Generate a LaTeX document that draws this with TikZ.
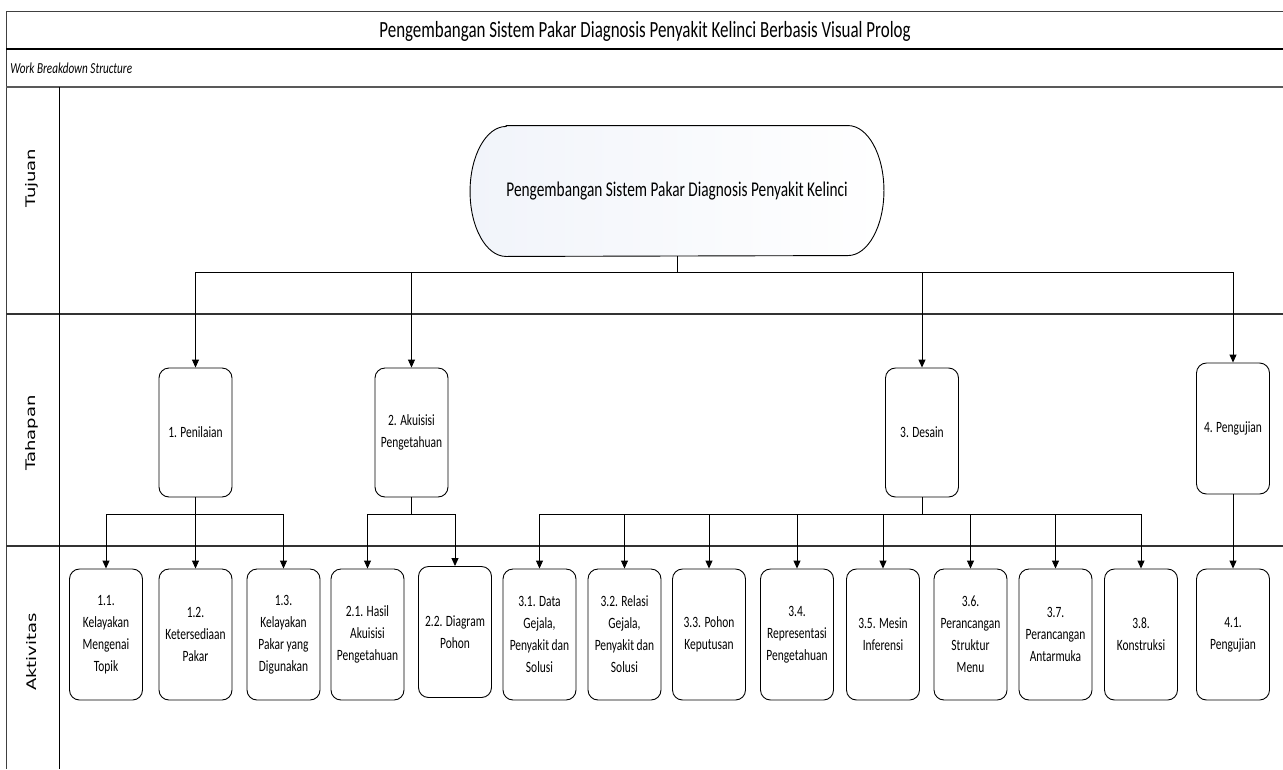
\documentclass[tikz,border=0pt]{standalone}
\usepackage{fontspec}
\setmainfont{Carlito}[FakeStretch=0.73]
\newfontfamily\lanefont{DejaVu Sans}
\usepackage{graphicx}
\usepackage{tikz}
\usetikzlibrary{calc, arrows.meta, positioning}

\tikzset{
  boxtahap/.style={draw, rounded corners=10pt, fill=white, minimum width=73pt, minimum height=129pt, align=center, inner sep=2pt, font=\fontsize{15.7}{22}\selectfont},
  boxaktiv/.style={boxtahap, minimum height=131pt},
  lanelabel/.style={rotate=90, inner sep=0pt},
  arr/.style={-{Triangle[length=8pt, width=7pt]}, line width=0.9pt},
  lanesep/.style={line width=2pt, black!80},
}

\begin{document}
\begin{tikzpicture}[x=1pt, y=-1pt, line width=0.9pt]
  \useasboundingbox (0,0) rectangle (1283,769);

  % pool and lanes
  \draw[black!75] (6,11) -- (1283,11);
  \draw[black!75] (6,11) -- (6,769);
  \draw[lanesep, black] (6,49) -- (1283,49);
  \draw[black!65, line width=1.3pt] (6,87) -- (1283,87);
  \draw[lanesep] (6,314) -- (1283,314);
  \draw[lanesep] (6,546) -- (1283,546);
  \draw (59,87) -- (59,769);

  \node (title) at (645,31) {\fontsize{23.2}{27}\selectfont Pengembangan Sistem Pakar Diagnosis Penyakit Kelinci Berbasis Visual Prolog};
  \node[anchor=west, inner sep=0pt] (wbs) at (10,68) {\fontsize{15.3}{18}\selectfont\itshape Work Breakdown Structure};

  \node[lanelabel] (tujuan) at (32,178) {\scalebox{1}[0.73]{\lanefont\fontsize{18}{20}\selectfont Tujuan}};
  \node[lanelabel] (tahapan) at (32,433) {\scalebox{1}[0.73]{\lanefont\fontsize{18}{20}\selectfont Tahapan}};
  \node[lanelabel] (aktivitas) at (32,652) {\scalebox{1}[0.73]{\lanefont\fontsize{18}{20}\selectfont Aktivitas}};

  % tujuan
  \node[minimum width=413pt, minimum height=130pt, inner sep=0pt] (goal) at (677,191) {};
  \path[draw, left color={rgb,255:red,241;green,244;blue,250}, right color=white]
    ([xshift=36pt]goal.north west) -- ([xshift=-36pt]goal.north east)
    arc[start angle=-90, end angle=90, x radius=36, y radius=65]
    -- ([xshift=36pt]goal.south west)
    arc[start angle=90, end angle=270, x radius=36, y radius=65] -- cycle;
  \node (goaltext) at (goal.center) {\fontsize{21}{24}\selectfont Pengembangan Sistem Pakar Diagnosis Penyakit Kelinci};

  % tahapan
  \node[boxtahap] (t1) at (195.5,432.5) {1. Penilaian};
  \node[boxtahap] (t2) at (411.5,432.5) {2. Akuisisi\\Pengetahuan};
  \node[boxtahap] (t3) at (922,432.5) {3. Desain};
  \node[boxtahap, minimum height=131pt] (t4) at (1233,428.5) {4. Pengujian};

  % aktivitas
  \node[boxaktiv] (a11) at (106,634.5) {1.1.\\Kelayakan\\Mengenai\\Topik};
  \node[boxaktiv] (a12) at (195.5,634.5) {1.2.\\Ketersediaan\\Pakar};
  \node[boxaktiv] (a13) at (283.5,634.5) {1.3.\\Kelayakan\\Pakar yang\\Digunakan};
  \node[boxaktiv] (a21) at (367.5,634.5) {2.1. Hasil\\Akuisisi\\Pengetahuan};
  \node[boxaktiv] (a22) at (455,632) {2.2. Diagram\\Pohon};
  \node[boxaktiv] (a31) at (539.5,634.5) {3.1. Data\\Gejala,\\Penyakit dan\\Solusi};
  \node[boxaktiv] (a32) at (624.5,634.5) {3.2. Relasi\\Gejala,\\Penyakit dan\\Solusi};
  \node[boxaktiv] (a33) at (709,634.5) {3.3. Pohon\\Keputusan};
  \node[boxaktiv] (a34) at (797,634.5) {3.4.\\Representasi\\Pengetahuan};
  \node[boxaktiv] (a35) at (883,634.5) {3.5. Mesin\\Inferensi};
  \node[boxaktiv] (a36) at (970.5,634.5) {3.6.\\Perancangan\\Struktur\\Menu};
  \node[boxaktiv] (a37) at (1055.5,634.5) {3.7.\\Perancangan\\Antarmuka};
  \node[boxaktiv] (a38) at (1141,634.5) {3.8.\\Konstruksi};
  \node[boxaktiv] (a41) at (1233,634.5) {4.1.\\Pengujian};

  % connectors
  \coordinate (bus) at (677,272);
  \draw (goal.south) -- (bus);
  \foreach \t in {t1,t2,t3,t4}
    \draw[arr] (bus) -| (\t.north);
  \foreach \a in {a11,a12,a13}
    \draw[arr] (t1.south) -- ++(0,17) -| (\a.north);
  \foreach \a in {a21,a22}
    \draw[arr] (t2.south) -- ++(0,17) -| (\a.north);
  \foreach \a in {a31,a32,a33,a34,a35,a36,a37,a38}
    \draw[arr] (t3.south) -- ++(0,17) -| (\a.north);
  \draw[arr] (t4.south) -- (a41.north);
\end{tikzpicture}
\end{document}
